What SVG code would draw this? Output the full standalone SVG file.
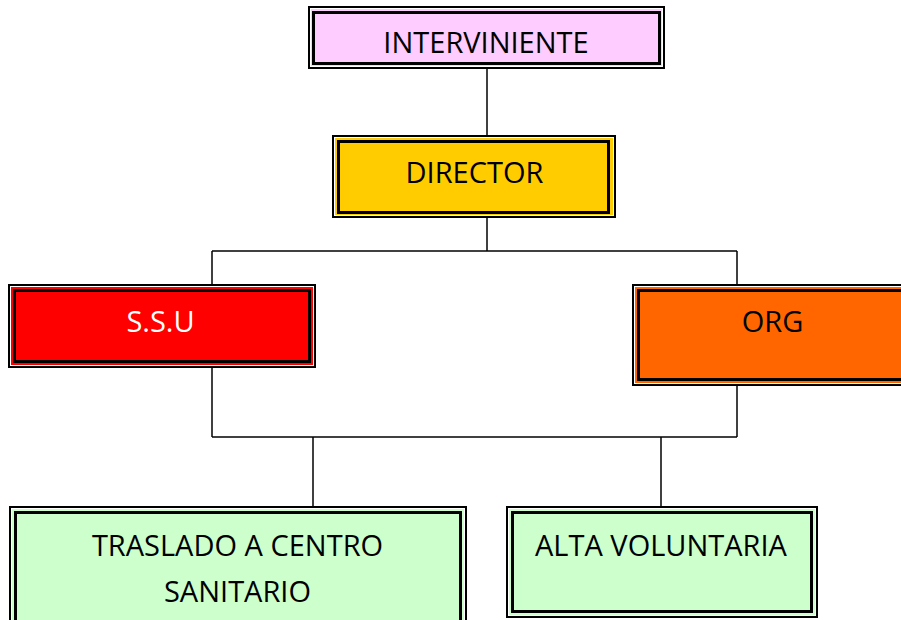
<svg xmlns="http://www.w3.org/2000/svg" width="901" height="620" viewBox="0 0 901 620">
<style>
.o{stroke:#000;stroke-width:2}
.w{fill:none;stroke:#fff;stroke-width:1}
.i{fill:none;stroke:#000;stroke-width:3}
.t{font-family:"Open Sans","Liberation Sans",sans-serif;font-size:29px;text-anchor:middle;fill:#000}
.c line{stroke:#000;stroke-width:1.5}
</style>
<rect width="901" height="620" fill="#fff"/>
<g class="c" id="connectors">
<line x1="487" y1="68" x2="487" y2="136"/>
<line x1="487" y1="217" x2="487" y2="251"/>
<line x1="212" y1="251" x2="737" y2="251"/>
<line x1="212" y1="251" x2="212" y2="285"/>
<line x1="737" y1="251" x2="737" y2="285"/>
<line x1="212" y1="367" x2="212" y2="437"/>
<line x1="737" y1="385" x2="737" y2="437"/>
<line x1="212" y1="437" x2="737" y2="437"/>
<line x1="313" y1="437" x2="313" y2="507"/>
<line x1="661" y1="437" x2="661" y2="507"/>
</g>
<g id="interviniente">
<rect class="o" x="309" y="7" width="355" height="61" fill="#ffccff"/>
<rect class="w" x="310.5" y="8.5" width="352" height="58"/>
<rect class="i" x="313.5" y="12.5" width="346" height="51"/>
<text class="t" x="486" y="53">INTERVINIENTE</text>
</g>
<g id="director">
<rect class="o" x="333" y="136" width="282" height="81" fill="#ffcc00"/>
<rect class="w" x="334.5" y="137.5" width="279" height="78"/>
<rect class="i" x="338.5" y="141.5" width="270" height="71"/>
<text class="t" x="474.5" y="183">DIRECTOR</text>
</g>
<g id="ssu">
<rect class="o" x="9" y="285" width="306" height="82" fill="#ff0000"/>
<rect class="w" x="10.5" y="286.5" width="303" height="79"/>
<rect class="i" x="14.5" y="290.5" width="295" height="71"/>
<text class="t" x="160.5" y="332" style="fill:#fff">S.S.U</text>
</g>
<g id="org">
<rect class="o" x="633" y="285" width="280" height="100" fill="#ff6600"/>
<rect class="w" x="634.5" y="286.5" width="277" height="97"/>
<rect class="i" x="638.5" y="290.5" width="270" height="89"/>
<text class="t" x="772.5" y="332">ORG</text>
</g>
<g id="traslado">
<rect class="o" x="10" y="507" width="456" height="120" fill="#ccffcc"/>
<rect class="w" x="11.5" y="508.5" width="453" height="117"/>
<rect class="i" x="15.5" y="512.5" width="445" height="110"/>
<text class="t" x="237.5" y="556">TRASLADO A CENTRO</text>
<text class="t" x="237.5" y="602">SANITARIO</text>
</g>
<g id="alta">
<rect class="o" x="507" y="507" width="310" height="110" fill="#ccffcc"/>
<rect class="w" x="508.5" y="508.5" width="307" height="107"/>
<rect class="i" x="512.5" y="512.5" width="299" height="99"/>
<text class="t" x="661" y="556">ALTA VOLUNTARIA</text>
</g>
</svg>
